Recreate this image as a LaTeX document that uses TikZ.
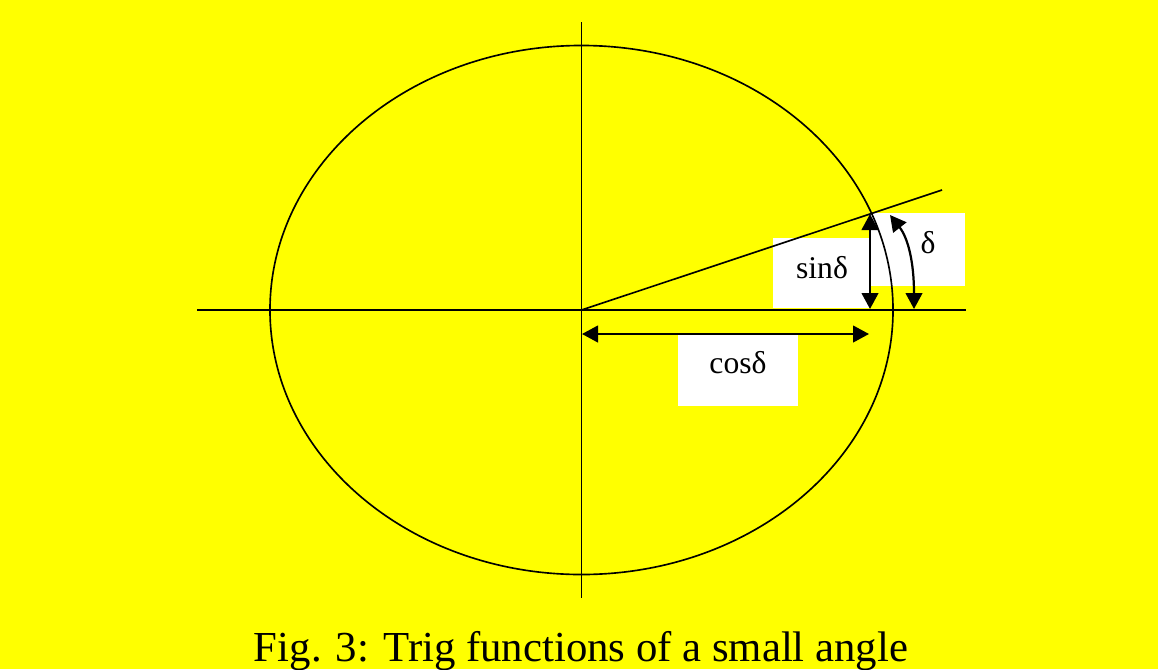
\documentclass[tikz,border=0pt]{standalone}
\usepackage{fontspec}
\setmainfont{Liberation Serif}
\usetikzlibrary{arrows.meta,positioning}
\definecolor{bgyellow}{RGB}{255,255,0}

\begin{document}
\begin{tikzpicture}[
  x=0.03cm, y=-0.03cm,
  axis/.style={draw, line width=1.4pt},
  dimarrow/.style={draw, line width=1.9pt, {Triangle[length=0.48cm,width=0.5cm]}-{Triangle[length=0.48cm,width=0.5cm]}},
  whitebox/.style={fill=white, inner sep=0pt},
  lbl/.style={font=\fontsize{27}{32}\selectfont, inner sep=0pt, anchor=base}
]
\fill[bgyellow] (0,0) rectangle (1158,669);
\useasboundingbox (0,0) rectangle (1158,669);

% label boxes
\node[whitebox, minimum width=2.91cm, minimum height=2.1cm] (sinbox) at (821.5,273) {};
\node[whitebox, minimum width=2.85cm, minimum height=2.19cm] (dbox) at (917.5,249.5) {};
\node[whitebox, minimum width=3.6cm, minimum height=2.13cm] (cosbox) at (738,370.5) {};

% axes and circle
\coordinate (O) at (581.5,310);
\coordinate (xL) at (197,310);
\coordinate (xR) at (966,310);
\coordinate (yT) at (581.5,22);
\coordinate (yB) at (581.5,598);
\draw[axis] (xL) -- (xR);
\draw[axis] (yT) -- (yB);
\draw[axis] (O) ellipse [x radius=9.345cm, y radius=7.935cm];

% ray
\coordinate (R) at (942,190);
\draw[axis] (O) -- (R);

% dimension arrows
\coordinate (P) at (870,214);
\coordinate (F) at (870,309);
\draw[dimarrow] (P) -- (F);
\coordinate (cosL) at (582,334);
\coordinate (cosR) at (869,334);
\draw[dimarrow] (cosL) -- (cosR);
\coordinate (dtop) at (890,215);
\coordinate (dbot) at (914,309);
\draw[dimarrow] (dtop) .. controls (908,238) and (914,262) .. (dbot);

\node[lbl] (sinlbl) at (822,278) {sinδ};
\node[lbl] (dlbl) at (928,253) {δ};
\node[lbl] (coslbl) at (738,373) {cosδ};

\node[font=\fontsize{36.5}{44}\selectfont, inner sep=0pt, anchor=base] (caption) at (581,661) {Fig. 3: Trig functions of a small angle};
\end{tikzpicture}
\end{document}
